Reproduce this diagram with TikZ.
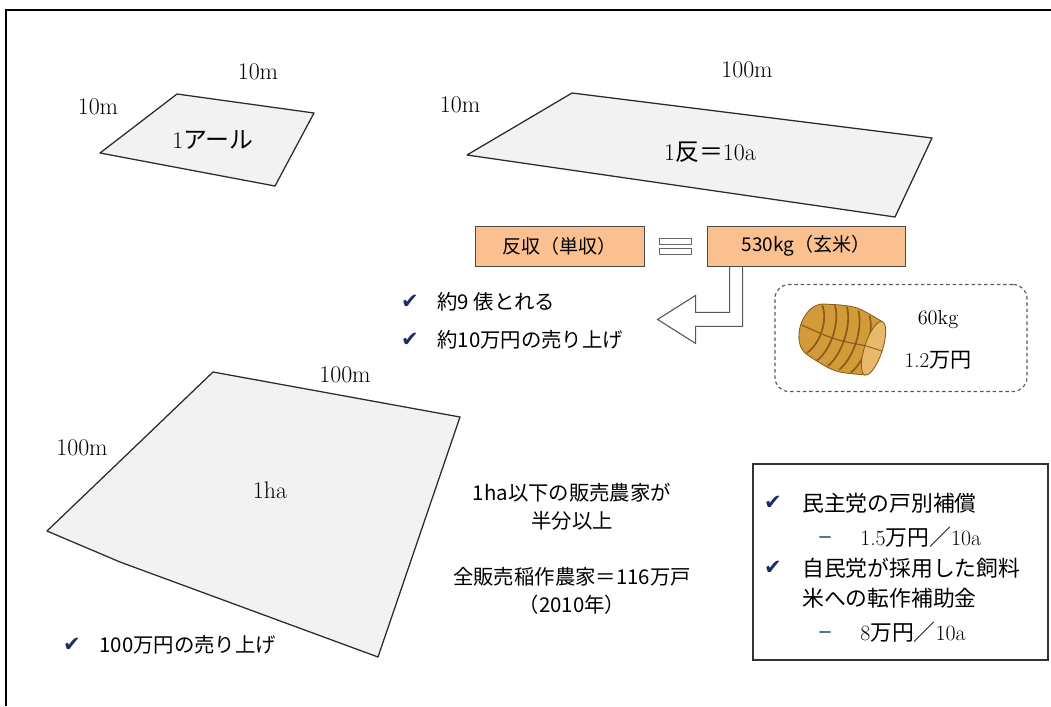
\documentclass[tikz,border=0pt]{standalone}
\usepackage{fontspec}
\usepackage{xcolor}
\usepackage{tikz}
\usetikzlibrary{positioning,calc}

\newfontfamily\jp{Noto Sans CJK JP}
\newfontfamily\dv{DejaVu Sans}

\definecolor{plotfill}{HTML}{F2F2F2}
\definecolor{plotline}{HTML}{2B2B2B}
\definecolor{yieldfill}{HTML}{FAC090}
\definecolor{tickblue}{HTML}{1C2D64}
\definecolor{subblue}{HTML}{4F74A8}
\definecolor{straw}{HTML}{D29B3A}
\definecolor{strawlight}{HTML}{E6BA6A}
\definecolor{strawdark}{HTML}{8B5A16}

\tikzset{
  plotarea/.style={fill=plotfill, draw=plotline, line width=0.9pt, line join=round},
  sidelabel/.style={font=\fontsize{17}{19}\selectfont},
  arealabel/.style={font=\fontsize{17}{19}\selectfont},
  yieldbox/.style={draw=black!70, fill=yieldfill, line width=0.6pt, minimum height=1.0cm,
    font=\jp\fontsize{13.5}{16}\selectfont},
  bullet/.style={font=\jp\fontsize{14.5}{20}\selectfont, inner sep=0pt},
  tickmark/.style={text=tickblue, font=\dv\fontsize{15}{17}\selectfont, inner sep=0pt},
  subdash/.style={draw=subblue, line width=0.8pt, minimum width=0.28cm, minimum height=0pt, inner sep=0pt},
}

\begin{document}
\begin{tikzpicture}[x=0.025cm, y=-0.025cm]
  \useasboundingbox (0,0) rectangle (1051,706);
  % Frame
  \draw[line width=1.4pt] (6,706) |- (1051,10);

  % Plots
  \draw[plotarea] (177,94) -- (314,113) -- (275,186) -- (100,153) -- cycle;
  \draw[plotarea] (572,93) -- (932,138) -- (895,217) -- (467,155) -- cycle;
  \draw[plotarea] (213,372) -- (460,417) -- (378,657) -- (120,562) -- (47,531) -- cycle;

  % Plot labels
  \node[arealabel] (are) at (213,140) {1{\jp アール}};
  \node[sidelabel] (areTop) at (258,72) {10m};
  \node[sidelabel] (areLeft) at (98,107) {10m};
  \node[arealabel] (tan) at (710,152) {1{\jp 反＝}10a};
  \node[sidelabel] (tanTop) at (747,70) {100m};
  \node[sidelabel] (tanLeft) at (460,105) {10m};
  \node[arealabel] (ha) at (270,490) {1ha};
  \node[sidelabel] (haTop) at (345,375) {100m};
  \node[sidelabel] (haLeft) at (82,448) {100m};

  % Yield
  \node[yieldbox, minimum width=4.22cm] (tanshu) at (559.5,246) {反収（単収）};
  \node[yieldbox, minimum width=4.95cm] (brown) at (806,246) {530kg（玄米）};
  \foreach \yy in {-5,5} {
    \draw[draw=black!60, fill=white, line width=0.5pt]
      ($(tanshu.east)+(15,\yy-3)$) rectangle ($(brown.west)+(-15,\yy+3)$);
  }
  \draw[draw=black!65, line width=0.8pt, line join=miter]
    ($(brown.south west)+(23,0)$) -- ++(0,46) -- ++(-34,0) -- ++(0,-17) -- ++(-38,24)
    -- ++(38,24) -- ++(0,-17) -- ++(47,0) -- ++(0,-60);

  \node[tickmark] (t1) at (410,302) {✔};
  \node[bullet, anchor=west, right=0.45cm of t1] (bags) {約9 俵とれる};
  \node[tickmark] (t2) at (410,340) {✔};
  \node[bullet, anchor=west, right=0.45cm of t2] (sales) {約10万円の売り上げ};

  % Bale
  \node[draw=black!65, dashed, dash pattern=on 2.5pt off 2pt, rounded corners=10pt,
    line width=0.8pt, minimum width=6.3cm, minimum height=2.675cm] (balebox) at (901,338) {};
  \begin{scope}[shift={(845,339)}, rotate=-18]
    \draw[strawdark, fill=straw, line width=0.6pt]
      (30,-28) .. controls (0,-35) .. (-30,-27) .. controls (-52,-22) and (-52,22) .. (-30,27)
      .. controls (0,35) .. (30,28) -- cycle;
    \foreach \x/\h in {-32/25, -20/29, -8/31, 4/31, 16/30} {
      \draw[strawdark, line width=1.2pt] (\x,-\h) .. controls (\x+10,-\h/2) and (\x+10,\h/2) .. (\x,\h);
    }
    \draw[strawdark, line width=0.8pt] (-46,0) .. controls (-10,4) .. (22,0);
    \draw[strawdark, fill=strawlight, line width=0.6pt] (30,0) ellipse[x radius=9, y radius=28];
    \draw[strawdark, line width=0.6pt] (21,0) -- (39,0);
  \end{scope}
  \node[font=\fontsize{14.5}{16}\selectfont] (weight) at (938,320) {60kg};
  \node[font=\fontsize{15}{17}\selectfont] (price) at (938,360) {1.2{\jp 万円}};

  % One hectare
  \node[tickmark] (t3) at (72,645) {✔};
  \node[bullet, anchor=west, right=0.45cm of t3] (haSales) {100万円の売り上げ};
  \node[bullet, align=center] (share) at (572,507) {1ha以下の販売農家が\\半分以上};
  \node[bullet, align=center] (total) at (572,591) {全販売稲作農家＝116万戸\\（2010年）};

  % Subsidies
  \node[draw=black!80, line width=0.9pt, minimum width=7.375cm, minimum height=4.9cm] (policy) at (900.5,562) {};
  \node[tickmark] (t4) at (773,503) {✔};
  \node[bullet, anchor=west, font=\jp\fontsize{15.5}{21}\selectfont] (dpj) at (802,503) {民主党の戸別補償};
  \path (825,537) node[subdash] (d1) {};
  \node[bullet, anchor=west, font=\fontsize{15.5}{21}\selectfont] (dpjRate) at (860,537) {1.5{\jp 万円／}10a};
  \node[tickmark] (t5) at (773,568) {✔};
  \node[bullet, anchor=west, align=left, font=\jp\fontsize{15.5}{21.3}\selectfont] (ldp) at (802,583)
    {自民党が採用した飼料\\米への転作補助金};
  \path (825,632) node[subdash] (d2) {};
  \node[bullet, anchor=west, font=\fontsize{15.5}{21}\selectfont] (ldpRate) at (860,632) {8{\jp 万円／}10a};
\end{tikzpicture}
\end{document}
